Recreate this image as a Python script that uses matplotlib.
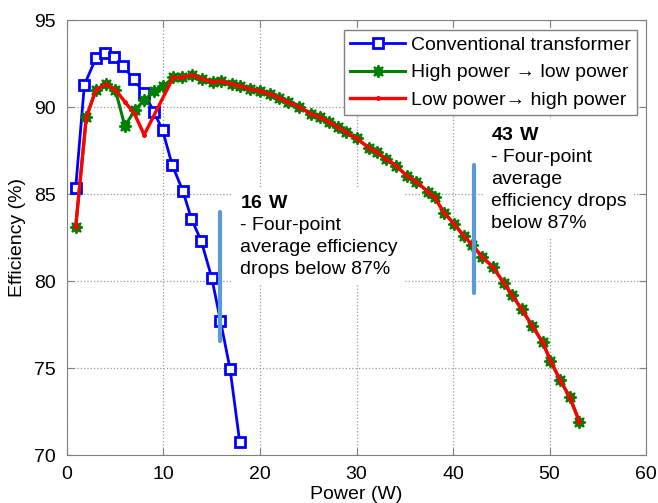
import matplotlib
matplotlib.use("Agg")
import matplotlib.pyplot as plt

plt.rcParams['font.family'] = ['Liberation Sans', 'DejaVu Sans']
plt.rcParams['mathtext.fontset'] = 'custom'
plt.rcParams['mathtext.rm'] = 'Liberation Sans'
plt.rcParams['mathtext.bf'] = 'Liberation Sans:bold'

# Data
conv_p = [0.9, 1.8, 3.0, 3.9, 4.9, 5.8, 6.9, 8.0, 9.0, 9.9, 10.9, 12.0, 12.9, 13.9, 15.0, 15.9, 16.9, 17.9]
conv_eff = [85.34, 91.26, 92.82, 93.12, 92.86, 92.37, 91.6, 90.79, 89.73, 88.68, 86.67, 85.19,
            83.56, 82.32, 80.19, 77.72, 74.94, 70.73]

hl_p = [0.9, 2, 3, 4, 5, 6, 7, 8, 9, 10, 11, 11.9, 13.0, 14.0, 15.1, 16.0, 17.1, 17.9, 19.0, 20.0,
        21.0, 22.0, 22.9, 24.0, 25.3, 26.2, 27.2, 28.1, 28.9, 30.0, 31.3, 32.1, 33.1, 34.1, 35.2,
        36.2, 37.4, 38.1, 39.1, 40.1, 41.1, 42.0, 43.0, 44.1, 45.3, 46.1, 47.1, 48.2, 49.3, 50.1,
        51.1, 52.1, 53.1]
hl_eff = [83.1, 89.4, 91.0, 91.3, 91.0, 88.9, 89.8, 90.4, 90.9, 91.2, 91.7, 91.7, 91.84, 91.61,
          91.45, 91.49, 91.32, 91.22, 91.02, 90.92, 90.75, 90.53, 90.27, 90.02, 89.6, 89.41, 89.12,
          88.83, 88.55, 88.2, 87.65, 87.4, 86.99, 86.63, 86.05, 85.71, 85.13, 84.8, 83.9, 83.3,
          82.6, 82.07, 81.4, 80.82, 79.87, 79.2, 78.39, 77.43, 76.47, 75.42, 74.31, 73.32, 71.91]

lh_p = [0.9, 2, 3, 4, 5, 6, 7, 8, 11, 11.9, 13.0, 14.0, 15.1, 16.0, 17.1, 17.9, 19.0, 20.0,
        21.0, 22.0, 22.9, 24.0, 25.3, 26.2, 27.2, 28.1, 28.9, 30.0, 31.3, 32.1, 33.1, 34.1, 35.2,
        36.2, 37.4, 38.1, 39.1, 40.1, 41.1, 42.0, 43.0, 44.1, 45.3, 46.1, 47.1, 48.2, 49.3, 50.1,
        51.1, 52.1, 53.1]
lh_eff = [83.1, 89.4, 91.0, 91.3, 91.0, 90.3, 89.6, 88.4, 91.7, 91.7, 91.84, 91.61,
          91.45, 91.49, 91.32, 91.22, 91.02, 90.92, 90.75, 90.53, 90.27, 90.02, 89.6, 89.41, 89.12,
          88.83, 88.55, 88.2, 87.65, 87.4, 86.99, 86.63, 86.05, 85.71, 85.13, 84.8, 83.9, 83.3,
          82.6, 82.07, 81.4, 80.82, 79.87, 79.2, 78.39, 77.43, 76.47, 75.42, 74.31, 73.32, 71.91]

mark_x = [15.85, 42.2]
mark_lo = [76.55, 79.31]
mark_hi = [83.97, 86.67]

labels = ["Conventional transformer", "High power \u2192 low power", "Low power\u2192 high power"]
xticks = [0, 10, 20, 30, 40, 50, 60]
yticks = [70, 75, 80, 85, 90, 95]

fig = plt.figure(figsize=(6.58, 5.03), dpi=100)
ax = fig.add_axes([0.1018, 0.0954, 0.88, 0.8648])

ax.plot(conv_p, conv_eff, color='#0000FF', lw=2.0, marker='s', ms=7.5, mfc='white',
        mec='#0000FF', mew=2.0, label=labels[0], zorder=4)
ax.plot(hl_p, hl_eff, color='#008000', lw=2.2, marker=(8, 1, 0), ms=9, mfc='#008000',
        mec='#008000', mew=1.3, label=labels[1], zorder=5)
ax.plot(lh_p, lh_eff, color='#FF0000', lw=2.4, marker='.', ms=5, mfc='#FF0000',
        mec='#FF0000', label=labels[2], zorder=6)

for x, lo, hi in zip(mark_x, mark_lo, mark_hi):
    ax.plot([x, x], [lo, hi], color='#5B9BD5', lw=3, solid_capstyle='round', zorder=7)

bb = dict(facecolor='white', edgecolor='none', pad=5)
ax.text(17.95, 84.95, r"$\mathbf{16\ W}$" + "\n- Four-point\naverage efficiency\ndrops below 87%",
        fontsize=14, va='top', ha='left', linespacing=1.38, bbox=bb, zorder=3)
ax.text(43.9, 88.85, r"$\mathbf{43\ W}$" + "\n- Four-point\naverage\nefficiency drops\nbelow 87%",
        fontsize=14, va='top', ha='left', linespacing=1.38, bbox=bb, zorder=3)

ax.set_xlim(0, 60)
ax.set_ylim(70, 95)
ax.set_xticks(xticks)
ax.set_yticks(yticks)
ax.grid(True, linestyle=':', color='#9a9a9a', linewidth=0.9, zorder=0)
ax.set_axisbelow(True)
for s in ax.spines.values():
    s.set_color('#808080')
ax.tick_params(direction='in', top=True, right=True, color='#808080', labelsize=14,
               length=5, pad=8)
ax.set_xlabel("Power (W)", fontsize=14, labelpad=2)
ax.set_ylabel("Efficiency (%)", fontsize=14, labelpad=6)

leg = ax.legend(loc='upper right', bbox_to_anchor=(0.985, 0.978), fontsize=14, numpoints=1,
                handlelength=2.8, labelspacing=0.5, borderpad=0.35, handletextpad=0.3,
                fancybox=False, framealpha=1, borderaxespad=0)
leg.get_frame().set_edgecolor('#808080')
leg.get_frame().set_linewidth(1.0)
leg.set_zorder(10)

fig.savefig("out.png", dpi=100)
